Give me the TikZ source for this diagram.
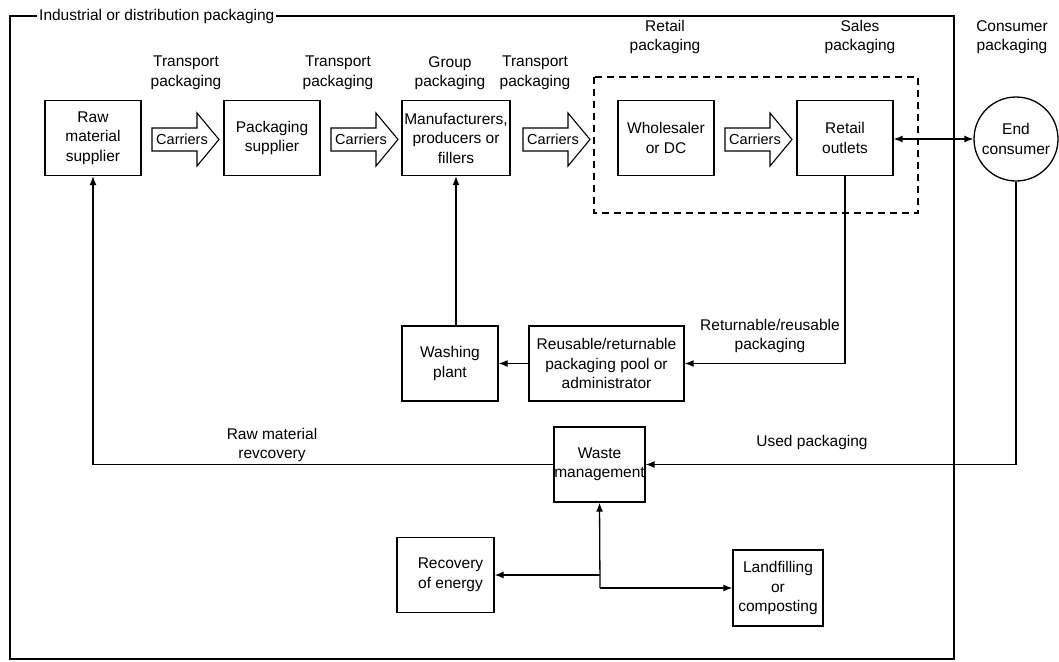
\documentclass[tikz,border=0pt]{standalone}
\usepackage{fontspec}
\setmainfont{Liberation Sans}
\usetikzlibrary{arrows.meta}
\tikzset{
  txt/.style={font=\fontsize{15.5}{19.5}\selectfont, align=center, inner sep=0pt},
  box/.style={txt, draw, line width=1.3pt, minimum height=75pt},
  carr/.style={draw, line width=1.1pt, line join=miter},
  conn/.style={line width=1.3pt, -{Latex[length=9pt,width=7pt]}},
}
\newcommand\carrier[2]{%
  \draw[carr] (#1,128) -- (#1+45,128) -- (#1+45,113) -- (#1+67,139.5) -- (#1+45,166) -- (#1+45,151) -- (#1,151) -- cycle;
  \node[txt, font=\fontsize{14.5}{18}\selectfont] (#2) at (#1+30,139.5) {Carriers};
}
\begin{document}
\begin{tikzpicture}[x=1pt,y=-1pt]
\useasboundingbox (0,0) rectangle (1059,661);
% frame
\draw[line width=2.8pt] (10,16) rectangle (954,659);
\node[txt, fill=white, anchor=west, inner xsep=2pt, inner ysep=3pt] (title) at (37,16) {Industrial or distribution packaging};
% dashed retail region
\draw[line width=1.3pt, dash pattern=on 7pt off 5pt] (594,77) rectangle (918,213);
% top row boxes
\node[box, minimum width=96pt] (raw) at (93,138) {Raw\\material\\supplier};
\node[box, minimum width=96pt] (pack) at (272,138) {Packaging\\supplier};
\node[box, minimum width=108pt] (manu) at (456,138) {Manufacturers,\\producers or\\fillers};
\node[box, minimum width=96pt] (whole) at (666,138) {Wholesaler\\or DC};
\node[box, minimum width=96pt] (retail) at (845,138) {Retail\\outlets};
\node[txt, draw, circle, line width=1.3pt, minimum size=84pt] (endc) at (1016,139) {End\\consumer};
% carriers
\carrier{152}{c1}
\carrier{331}{c2}
\carrier{523}{c3}
\carrier{725}{c4}
% labels top
\node[txt] (l1) at (186,73) {Transport\\packaging};
\node[txt] (l2) at (338,73) {Transport\\packaging};
\node[txt] (l3) at (450,73) {Group\\packaging};
\node[txt] (l4) at (535,73) {Transport\\packaging};
\node[txt] (l5) at (665,37) {Retail\\packaging};
\node[txt] (l6) at (860,37) {Sales\\packaging};
\node[txt] (l7) at (1012,37) {Consumer\\packaging};
% middle boxes
\node[box, minimum width=155pt] (reuse) at (606.5,363.5) {Reusable/returnable\\packaging pool or\\administrator};
\node[box, minimum width=96pt] (wash) at (450,363.5) {Washing\\plant};
\node[box, minimum width=91pt] (waste) at (599.5,464.5) {Waste\\management};
\node[box, minimum width=97pt] (recov) at (445.5,575) {\hspace*{10pt}Recovery\\\hspace*{10pt}of energy};
\node[box, minimum width=90pt, minimum height=76pt] (land) at (778,588) {Landfilling\\or\\composting};
\node[txt] (l8) at (770,336) {Returnable/reusable\\packaging};
\node[txt] (l9) at (812,442) {Used packaging};
\node[txt] (l10) at (272,445) {Raw material\\revcovery};
% connectors
\draw[line width=1.3pt, {Latex[length=9pt,width=7pt]}-{Latex[length=9pt,width=7pt]}] (retail.east |- endc.west) -- (endc.west);
\draw[conn] (retail.south) |- (reuse.east);
\draw[conn] (reuse.west) -- (wash.east);
\coordinate (washtop) at (456,325.5);
\draw[conn] (washtop) -- (manu.south);
\draw[conn] (endc.south) |- (waste.east);
\draw[conn] (waste.west) -| (raw.south);
\coordinate (jtop) at (600,575);
\coordinate (jbot) at (600,588);
\draw[conn] (jbot) -- (waste.south);
\draw[conn] (jtop) -- (recov.east);
\draw[conn] (jbot) -- (land.west);
\end{tikzpicture}
\end{document}
